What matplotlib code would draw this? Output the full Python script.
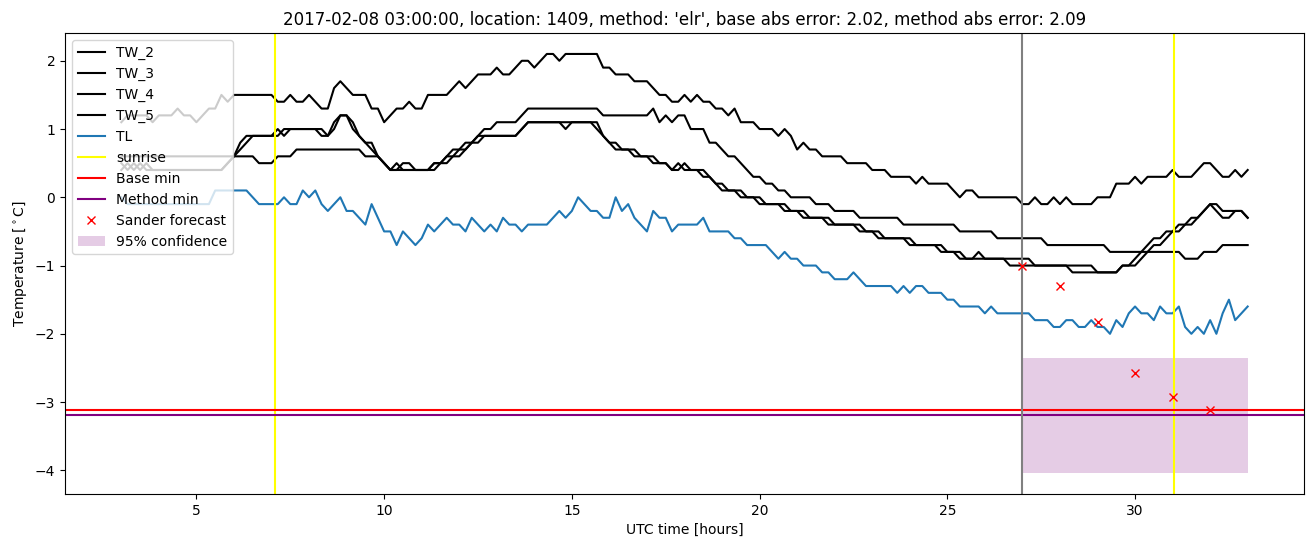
import numpy as np
import matplotlib
matplotlib.use("Agg")
import matplotlib.pyplot as plt

# time axis: 10-minute readings from 03:00 to 33:00 UTC hours
t_start, t_end, step_min = 3.0, 33.0, 10
hours = np.arange(t_start, t_end + 1e-9, step_min / 60.0)

tw_2 = [1.1,1.2,1.2,1.2,1.2,1.1, 1.2,1.2,1.2,1.3,1.2,1.2, 1.1,1.2,1.3,1.3,1.5,1.4,
        1.5,1.5,1.5,1.5,1.5,1.5, 1.5,1.4,1.4,1.5,1.4,1.4, 1.5,1.4,1.3,1.3,1.6,1.7,
        1.6,1.5,1.5,1.5,1.3,1.3, 1.1,1.2,1.3,1.3,1.4,1.3, 1.3,1.5,1.5,1.5,1.5,1.6,
        1.7,1.6,1.7,1.8,1.8,1.8, 1.9,1.8,1.8,1.9,2.0,2.0, 1.9,2.0,2.1,2.1,2.0,2.1,
        2.1,2.1,2.1,2.1,2.1,1.9, 1.9,1.8,1.8,1.8,1.7,1.7, 1.7,1.6,1.5,1.5,1.4,1.4,
        1.5,1.4,1.5,1.4,1.4,1.3, 1.3,1.2,1.3,1.1,1.1,1.1, 1.0,1.0,1.0,0.9,1.0,0.9,
        0.7,0.8,0.7,0.7,0.6,0.6, 0.6,0.6,0.5,0.5,0.5,0.5, 0.4,0.4,0.4,0.3,0.3,0.3,
        0.3,0.2,0.3,0.2,0.2,0.2, 0.2,0.1,0.0,0.1,0.1,0.0, 0.0,0.0,0.0,0.0,0.0,0.0,
        -0.1,-0.1,0.0,-0.1,-0.1,0.0, -0.1,0.0,-0.1,-0.1,-0.1,-0.1, 0.0,0.0,0.0,0.2,0.2,0.2,
        0.3,0.2,0.3,0.3,0.3,0.3, 0.4,0.3,0.3,0.3,0.4,0.5, 0.5,0.4,0.3,0.3,0.4,0.3, 0.4]

tw_3 = [0.6,0.6,0.6,0.6,0.6,0.6, 0.6,0.6,0.6,0.6,0.6,0.6, 0.6,0.6,0.6,0.6,0.6,0.6,
        0.6,0.6,0.6,0.6,0.5,0.5, 0.5,0.6,0.6,0.6,0.7,0.7, 0.7,0.7,0.7,0.7,0.7,0.7,
        0.7,0.7,0.7,0.6,0.6,0.6, 0.5,0.4,0.4,0.5,0.5,0.4, 0.4,0.4,0.5,0.5,0.6,0.7,
        0.7,0.8,0.8,0.9,1.0,1.0, 1.1,1.1,1.1,1.1,1.2,1.3, 1.3,1.3,1.3,1.3,1.3,1.3,
        1.3,1.3,1.3,1.3,1.3,1.2, 1.2,1.2,1.2,1.2,1.2,1.2, 1.2,1.3,1.1,1.2,1.1,1.2,
        1.2,1.0,1.0,1.0,0.8,0.8, 0.7,0.6,0.6,0.5,0.4,0.3, 0.3,0.2,0.2,0.1,0.1,0.0,
        0.0,0.0,0.0,-0.1,-0.1,-0.1, -0.2,-0.2,-0.2,-0.2,-0.3,-0.3, -0.3,-0.3,-0.3,-0.3,-0.3,-0.4,
        -0.4,-0.4,-0.4,-0.4,-0.4,-0.4, -0.4,-0.4,-0.5,-0.5,-0.5,-0.5, -0.5,-0.5,-0.6,-0.6,-0.6,-0.6,
        -0.6,-0.6,-0.6,-0.6,-0.7,-0.7, -0.7,-0.7,-0.7,-0.7,-0.7,-0.7, -0.7,-0.7,-0.8,-0.8,-0.8,-0.8,
        -0.8,-0.8,-0.8,-0.8,-0.8,-0.8, -0.8,-0.8,-0.9,-0.9,-0.9,-0.8, -0.8,-0.8,-0.7,-0.7,-0.7,-0.7, -0.7]

tw_4 = [0.5,0.4,0.5,0.4,0.5,0.4, 0.4,0.4,0.4,0.4,0.4,0.4, 0.4,0.4,0.4,0.4,0.4,0.5,
        0.6,0.8,0.9,0.9,0.9,0.9, 0.9,1.0,0.9,1.0,1.0,1.0, 1.0,1.0,0.9,0.9,1.1,1.2,
        1.2,1.0,0.9,0.8,0.7,0.6, 0.5,0.4,0.4,0.4,0.4,0.4, 0.4,0.4,0.5,0.5,0.6,0.6,
        0.7,0.7,0.8,0.9,0.9,0.9, 0.9,0.9,0.9,0.9,1.0,1.1, 1.1,1.1,1.1,1.1,1.1,1.1,
        1.1,1.1,1.1,1.1,1.0,0.9, 0.8,0.7,0.7,0.7,0.6,0.6, 0.6,0.5,0.5,0.5,0.4,0.5,
        0.4,0.4,0.4,0.3,0.3,0.2, 0.1,0.1,0.1,0.0,0.0,0.0, -0.1,-0.1,-0.1,-0.1,-0.2,-0.2,
        -0.2,-0.3,-0.3,-0.3,-0.3,-0.4, -0.4,-0.4,-0.4,-0.4,-0.5,-0.5, -0.5,-0.6,-0.6,-0.6,-0.6,-0.6,
        -0.7,-0.7,-0.7,-0.7,-0.7,-0.8, -0.8,-0.8,-0.9,-0.9,-0.9,-0.8, -0.9,-0.9,-0.9,-0.9,-1.0,-1.0,
        -1.0,-1.0,-1.0,-1.0,-1.0,-1.0, -1.0,-1.0,-1.1,-1.1,-1.1,-1.1, -1.1,-1.1,-1.1,-1.1,-1.0,-1.0,
        -0.9,-0.8,-0.7,-0.6,-0.6,-0.5, -0.5,-0.4,-0.4,-0.3,-0.3,-0.2, -0.1,-0.1,-0.2,-0.2,-0.2,-0.2, -0.3]

tw_5 = [0.4,0.5,0.4,0.5,0.4,0.4, 0.4,0.4,0.4,0.4,0.4,0.4, 0.4,0.4,0.4,0.4,0.4,0.5,
        0.6,0.7,0.8,0.9,0.9,0.9, 0.9,0.9,1.0,1.0,1.0,1.0, 1.0,1.0,1.0,0.9,1.0,1.2,
        1.2,1.1,0.9,0.8,0.8,0.6, 0.5,0.4,0.5,0.4,0.4,0.4, 0.4,0.4,0.4,0.5,0.5,0.6,
        0.6,0.7,0.8,0.8,0.9,0.9, 0.9,0.9,0.9,0.9,1.0,1.1, 1.1,1.1,1.1,1.1,1.1,1.0,
        1.1,1.1,1.1,1.1,1.1,0.9, 0.8,0.8,0.7,0.7,0.7,0.6, 0.6,0.6,0.5,0.5,0.4,0.4,
        0.5,0.4,0.4,0.4,0.3,0.2, 0.2,0.1,0.1,0.1,0.0,0.0, 0.0,-0.1,-0.1,-0.1,-0.1,-0.2,
        -0.2,-0.2,-0.3,-0.3,-0.3,-0.3, -0.4,-0.4,-0.4,-0.4,-0.4,-0.5, -0.5,-0.5,-0.6,-0.6,-0.6,-0.6,
        -0.6,-0.7,-0.7,-0.7,-0.7,-0.7, -0.8,-0.8,-0.8,-0.9,-0.9,-0.9, -0.9,-0.9,-0.9,-0.9,-0.9,-0.9,
        -0.9,-0.9,-1.0,-1.0,-1.0,-1.0, -1.0,-1.0,-1.0,-1.0,-1.0,-1.0, -1.1,-1.1,-1.1,-1.1,-1.0,-1.0,
        -1.0,-0.9,-0.8,-0.7,-0.7,-0.6, -0.5,-0.5,-0.4,-0.4,-0.3,-0.2, -0.1,-0.2,-0.3,-0.3,-0.2,-0.2, -0.3]

tl = [0.0,-0.1,-0.1,-0.1,-0.1,-0.1, -0.1,-0.1,-0.1,-0.1,-0.1,-0.1, -0.1,-0.1,-0.1,0.1,0.1,0.1,
      0.1,0.1,0.1,0.0,-0.1,-0.1, -0.1,-0.1,0.0,-0.1,-0.1,0.1, 0.0,0.1,-0.1,-0.2,-0.1,0.0,
      -0.2,-0.2,-0.3,-0.4,-0.1,-0.3, -0.5,-0.5,-0.7,-0.5,-0.6,-0.7, -0.6,-0.4,-0.5,-0.4,-0.3,-0.4,
      -0.4,-0.5,-0.3,-0.4,-0.5,-0.4, -0.5,-0.3,-0.4,-0.4,-0.5,-0.4, -0.4,-0.4,-0.4,-0.3,-0.2,-0.3,
      -0.2,0.0,-0.1,-0.2,-0.2,-0.3, -0.3,0.0,-0.2,-0.1,-0.3,-0.4, -0.5,-0.2,-0.3,-0.3,-0.5,-0.4,
      -0.4,-0.4,-0.4,-0.3,-0.5,-0.5, -0.5,-0.5,-0.6,-0.6,-0.7,-0.7, -0.7,-0.7,-0.8,-0.9,-0.8,-0.9,
      -0.9,-1.0,-1.0,-1.0,-1.1,-1.1, -1.2,-1.2,-1.2,-1.1,-1.2,-1.3, -1.3,-1.3,-1.3,-1.3,-1.4,-1.3,
      -1.4,-1.3,-1.3,-1.4,-1.4,-1.4, -1.5,-1.5,-1.6,-1.6,-1.6,-1.6, -1.7,-1.6,-1.7,-1.7,-1.7,-1.7,
      -1.7,-1.7,-1.8,-1.8,-1.8,-1.9, -1.9,-1.8,-1.8,-1.9,-1.9,-1.8, -1.9,-1.9,-2.0,-1.8,-1.9,-1.7,
      -1.6,-1.7,-1.7,-1.8,-1.6,-1.7, -1.7,-1.6,-1.9,-2.0,-1.9,-2.0, -1.8,-2.0,-1.7,-1.5,-1.8,-1.7, -1.6]

sunrise_hours = [7.1, 31.05]
forecast_time = 27.0
base_min = -3.12
method_min = -3.19
sander_hours = [27, 28, 29, 30, 31, 32]
sander_values = [-1.0, -1.30, -1.83, -2.58, -2.93, -3.12]
conf_hours = [27, 33]
conf_low = -4.04
conf_high = -2.36

title = ("2017-02-08 03:00:00, location: 1409, method: 'elr', "
         "base abs error: 2.02, method abs error: 2.09")

fig = plt.figure(figsize=(13.13, 5.47), dpi=100)
ax = fig.add_axes([65/1313, 1-494/547, (1304-65)/1313, (494-33)/547])

for name, vals in [("TW_2", tw_2), ("TW_3", tw_3), ("TW_4", tw_4), ("TW_5", tw_5)]:
    ax.plot(hours, vals, color="black", label=name)
ax.plot(hours, tl, color="C0", label="TL")
ax.axvline(sunrise_hours[0], color="yellow", label="sunrise")
ax.axvline(sunrise_hours[1], color="yellow")
ax.axhline(base_min, color="red", label="Base min")
ax.axhline(method_min, color="purple", label="Method min")
ax.axvline(forecast_time, color="gray")
ax.plot(sander_hours, sander_values, "x", color="red", label="Sander forecast")
ax.fill_between(conf_hours, [conf_low, conf_low], [conf_high, conf_high],
                color="purple", alpha=0.2, linewidth=0, label="95% confidence")

ax.set_title(title)
ax.set_xlabel("UTC time [hours]")
ax.set_ylabel(r"Temperature [$^\circ$C]")
ax.legend(loc="upper left")

fig.savefig("out.png", dpi=100)
